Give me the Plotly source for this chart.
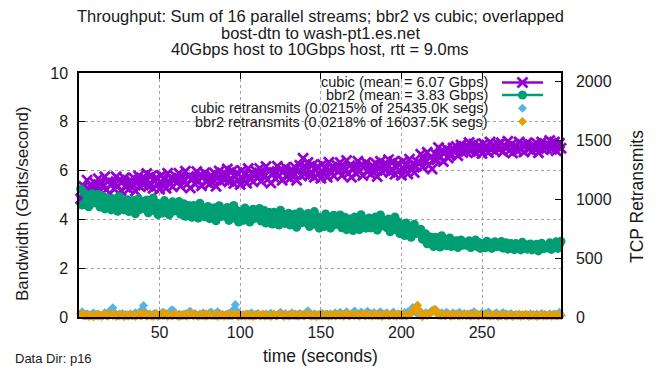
import plotly.graph_objects as go

# one sample per second, 299 intervals
time_s = list(range(1, 300))

cubic_gbps = [
    4.85, 5.05, 5.35, 5.00, 5.61, 5.25, 5.42, 5.06, 5.32, 5.48,
    5.30, 5.67, 5.14, 5.48, 5.38, 5.75, 5.22, 5.54, 5.07, 5.46,
    5.49, 5.24, 5.75, 5.37, 5.61, 5.17, 5.54, 5.70, 5.32, 5.44,
    5.25, 5.61, 5.46, 5.70, 5.16, 5.53, 5.78, 5.34, 5.57, 5.41,
    5.68, 5.88, 5.36, 5.49, 5.79, 5.28, 5.56, 5.72, 5.44, 5.24,
    5.80, 5.43, 5.63, 5.28, 5.89, 5.53, 5.70, 5.34, 5.60, 5.76,
    5.52, 5.89, 5.36, 5.70, 5.60, 5.97, 5.44, 5.76, 5.29, 5.68,
    5.70, 5.45, 5.96, 5.58, 5.82, 5.38, 5.75, 5.91, 5.53, 5.65,
    5.45, 5.81, 5.66, 5.90, 5.36, 5.73, 5.98, 5.54, 5.77, 5.61,
    5.87, 6.07, 5.55, 5.68, 5.98, 5.47, 5.75, 5.91, 5.63, 5.43,
    6.00, 5.63, 5.83, 5.48, 6.09, 5.73, 5.90, 5.54, 5.80, 5.96,
    5.72, 6.09, 5.56, 5.90, 5.80, 6.17, 5.64, 5.96, 5.49, 5.88,
    5.92, 5.67, 6.18, 5.80, 6.04, 5.60, 5.97, 6.13, 5.75, 5.87,
    5.69, 6.05, 5.90, 6.14, 5.60, 5.97, 6.22, 5.78, 6.51, 5.85,
    6.13, 6.33, 5.81, 5.94, 6.24, 5.73, 6.01, 6.17, 5.89, 5.69,
    6.25, 5.88, 6.08, 5.73, 6.34, 5.98, 6.15, 5.79, 6.05, 6.21,
    5.96, 6.33, 5.80, 6.14, 6.04, 6.41, 5.88, 6.20, 5.73, 6.12,
    6.12, 5.87, 6.38, 6.00, 6.24, 5.80, 6.17, 6.33, 5.95, 6.07,
    5.85, 6.21, 6.06, 6.30, 5.76, 6.13, 6.38, 5.94, 6.17, 6.01,
    6.25, 6.45, 5.93, 6.06, 6.36, 5.85, 6.13, 6.29, 6.01, 5.81,
    6.38, 6.01, 6.21, 5.86, 6.47, 6.11, 6.28, 5.92, 6.18, 6.34,
    6.30, 6.67, 6.14, 6.48, 6.38, 6.75, 6.22, 6.54, 6.07, 6.46,
    6.69, 6.44, 6.95, 6.57, 6.81, 6.37, 6.74, 6.90, 6.52, 6.64,
    6.67, 6.93, 6.82, 6.99, 6.61, 6.87, 7.05, 6.74, 6.90, 6.79,
    7.01, 7.15, 6.79, 6.88, 7.09, 6.73, 6.93, 7.04, 6.84, 6.70,
    7.10, 6.84, 6.99, 6.74, 7.17, 6.91, 7.03, 6.78, 6.96, 7.08,
    6.88, 7.14, 6.77, 7.01, 6.94, 7.20, 6.82, 7.05, 6.72, 6.99,
    6.99, 6.81, 7.17, 6.90, 7.07, 6.76, 7.02, 7.14, 6.87, 6.95,
    6.79, 7.05, 6.94, 7.11, 6.73, 6.99, 7.17, 6.86, 7.02, 6.91,
    7.09, 7.23, 6.87, 6.96, 7.17, 6.81, 7.01, 7.12, 6.92,
]

bbr2_gbps = [
    5.25, 4.59, 5.10, 4.72, 4.96, 4.52, 4.89, 5.05, 4.67, 4.79,
    4.83, 5.03, 4.51, 4.64, 4.94, 4.43, 4.71, 4.87, 4.59, 4.39,
    4.85, 4.48, 4.68, 4.33, 4.94, 4.58, 4.75, 4.39, 4.65, 4.81,
    4.32, 4.68, 4.53, 4.77, 4.23, 4.60, 4.85, 4.41, 4.64, 4.48,
    4.43, 4.80, 4.27, 4.61, 4.51, 4.88, 4.35, 4.67, 4.20, 4.59,
    4.51, 4.26, 4.77, 4.39, 4.63, 4.19, 4.56, 4.72, 4.34, 4.46,
    4.53, 4.73, 4.21, 4.34, 4.64, 4.13, 4.41, 4.57, 4.29, 4.09,
    4.57, 4.20, 4.40, 4.05, 4.66, 4.30, 4.47, 4.11, 4.37, 4.53,
    4.03, 4.39, 4.24, 4.48, 3.94, 4.31, 4.56, 4.12, 4.35, 4.19,
    4.12, 4.49, 3.96, 4.30, 4.20, 4.57, 4.04, 4.36, 3.89, 4.28,
    4.21, 3.96, 4.47, 4.09, 4.33, 3.89, 4.26, 4.42, 4.04, 4.16,
    4.25, 4.45, 3.93, 4.06, 4.36, 3.85, 4.13, 4.29, 4.01, 3.81,
    4.29, 3.92, 4.12, 3.77, 4.38, 4.02, 4.19, 3.83, 4.09, 4.25,
    3.77, 4.13, 3.98, 4.22, 3.68, 4.05, 4.30, 3.86, 4.09, 3.93,
    3.87, 4.24, 3.71, 4.05, 3.95, 4.32, 3.79, 4.11, 3.64, 4.03,
    3.96, 3.71, 4.22, 3.84, 4.08, 3.64, 4.01, 4.17, 3.79, 3.91,
    3.98, 4.18, 3.66, 3.79, 4.09, 3.58, 3.86, 4.02, 3.74, 3.54,
    4.10, 3.73, 3.93, 3.58, 4.19, 3.83, 4.00, 3.64, 3.90, 4.06,
    3.65, 4.01, 3.86, 4.10, 3.56, 3.93, 4.18, 3.74, 3.97, 3.81,
    3.65, 4.02, 3.49, 3.83, 3.73, 4.10, 3.57, 3.89, 3.42, 3.81,
    3.59, 3.34, 3.85, 3.47, 3.71, 3.27, 3.64, 3.80, 3.42, 3.54,
    3.44, 3.60, 3.19, 3.17, 3.41, 3.00, 3.23, 3.28, 3.05, 2.89,
    3.27, 2.99, 3.14, 2.87, 3.33, 3.06, 3.19, 2.92, 3.12, 3.24,
    2.89, 3.08, 3.00, 3.12, 2.85, 3.04, 3.16, 2.94, 3.06, 2.97,
    2.93, 3.12, 2.85, 3.02, 2.97, 3.16, 2.89, 3.05, 2.81, 3.01,
    2.97, 2.84, 3.10, 2.91, 3.03, 2.81, 3.00, 3.08, 2.88, 2.94,
    2.99, 3.09, 2.82, 2.89, 3.04, 2.78, 2.93, 3.01, 2.86, 2.76,
    3.01, 2.82, 2.93, 2.75, 3.06, 2.87, 2.96, 2.78, 2.91, 2.99,
    2.75, 2.94, 2.86, 2.98, 2.71, 2.90, 3.02, 2.80, 2.92, 2.83,
    2.85, 3.04, 2.77, 2.94, 2.89, 3.08, 2.81, 2.97, 3.10,
]

cubic_retrans = [
    30, 45, 22, 12, 28, 18, 8, 20, 35, 15,
    10, 26, 14, 6, 22, 36, 12, 25, 50, 62,
    78, 40, 18, 10, 24, 15, 30, 12, 20, 8,
    16, 28, 10, 22, 35, 14, 26, 48, 60, 98,
    45, 18, 12, 25, 9, 20, 32, 14, 6, 18,
    28, 40, 15, 22, 10, 30, 55, 62, 35, 18,
    12, 24, 8, 20, 15, 28, 10, 40, 48, 22,
    14, 30, 18, 10, 25, 12, 36, 20, 8, 16,
    35, 42, 20, 12, 28, 45, 30, 15, 22, 10,
    18, 26, 12, 30, 48, 65, 105, 50, 22, 14,
    8, 20, 15, 28, 10, 22, 35, 16, 12, 25,
    30, 18, 8, 22, 14, 26, 12, 20, 32, 15,
    24, 10, 18, 28, 40, 22, 12, 30, 16, 8,
    20, 35, 14, 26, 10, 22, 30, 18, 12, 25,
    40, 52, 35, 20, 12, 28, 16, 8, 22, 14,
    30, 18, 10, 24, 15, 28, 12, 20, 35, 16,
    22, 40, 28, 14, 30, 45, 20, 12, 26, 38,
    50, 32, 18, 28, 42, 24, 15, 35, 48, 22,
    30, 20, 38, 26, 14, 32, 45, 22, 18, 28,
    36, 20, 12, 30, 42, 25, 16, 28, 20, 14,
    26, 38, 22, 45, 30, 50, 80, 65, 40, 30,
    15, 40, 25, 18, 35, 28, 24, 40, 55, 60,
    65, 42, 22, 14, 36, 25, 18, 40, 28, 15,
    22, 35, 18, 28, 12, 40, 24, 16, 30, 20,
    26, 14, 32, 22, 45, 18, 28, 12, 24, 35,
    20, 30, 15, 42, 25, 18, 12, 28, 36, 20,
    14, 24, 38, 18, 28, 12, 22, 30, 16, 10,
    20, 14, 26, 8, 18, 12, 22, 16, 10, 28,
    15, 20, 12, 25, 8, 18, 30, 14, 22, 10,
    16, 28, 12, 20, 24, 10, 18, 40, 15,
]

bbr2_retrans = [
    28, 15, 8, 20, 12, 5, 18, 10, 3, 14,
    22, 8, 16, 4, 12, 25, 10, 6, 18, 30,
    12, 20, 5, 15, 8, 22, 10, 3, 14, 18,
    6, 20, 10, 14, 4, 16, 25, 8, 12, 35,
    18, 6, 14, 22, 10, 4, 16, 30, 12, 8,
    20, 10, 35, 15, 5, 22, 12, 8, 18, 28,
    10, 4, 16, 8, 20, 12, 6, 24, 14, 30,
    8, 18, 12, 4, 22, 10, 15, 6, 28, 12,
    20, 8, 14, 25, 10, 4, 18, 12, 22, 6,
    15, 10, 28, 14, 8, 20, 30, 12, 5, 16,
    10, 18, 6, 14, 22, 8, 12, 4, 16, 10,
    20, 8, 14, 25, 6, 12, 18, 10, 4, 15,
    22, 12, 8, 18, 28, 10, 5, 16, 12, 20,
    8, 14, 25, 10, 18, 6, 12, 22, 15, 8,
    20, 30, 12, 6, 16, 10, 4, 18, 12, 24,
    8, 14, 20, 10, 6, 16, 12, 25, 8, 14,
    18, 10, 22, 6, 14, 28, 12, 8, 20, 15,
    10, 24, 14, 6, 18, 30, 12, 8, 22, 10,
    16, 6, 20, 12, 26, 10, 14, 4, 18, 12,
    22, 8, 14, 28, 10, 16, 6, 20, 12, 25,
    10, 18, 8, 14, 22, 30, 45, 70, 85, 100,
    60, 20, 2, 15, 25, 12, 22, 30, 45, 58,
    62, 40, 14, 25, 10, 20, 8, 15, 28, 12,
    6, 16, 10, 22, 14, 8, 18, 12, 25, 10,
    14, 20, 6, 16, 10, 28, 12, 8, 18, 14,
    10, 22, 8, 15, 6, 18, 12, 20, 10, 4,
    16, 8, 22, 12, 6, 14, 18, 10, 4, 12,
    20, 8, 14, 6, 16, 10, 22, 12, 5, 14,
    8, 18, 12, 4, 15, 10, 20, 6, 14, 8,
    12, 18, 6, 14, 10, 22, 8, 16, 12,
]

legend_labels = [
    "cubic (mean = 6.07 Gbps)",
    "bbr2 (mean = 3.83 Gbps)",
    "cubic retransmits (0.0215% of 25435.0K segs)",
    "bbr2 retransmits (0.0218% of 16037.5K segs)",
]
title_lines = [
    "Throughput: Sum of 16 parallel streams; bbr2 vs cubic; overlapped",
    "bost-dtn to wash-pt1.es.net",
    "40Gbps host to 10Gbps host, rtt = 9.0ms",
]

PURPLE = "#9400d3"
GREEN = "#009e73"
BLUE = "#56b4e9"
ORANGE = "#e69f00"
FONT = "Liberation Sans, Arial, sans-serif"
TXT = "#1a1a1a"

W, H = 656, 371
L, R, T, B = 79, 561, 73, 317


def px(x):
    return (x - L) / (R - L)


def py(y):
    return (B - y) / (B - T)


CUBIC_MARK = dict(symbol="x-thin", size=10, line=dict(color=PURPLE, width=2.8))
BBR2_MARK = dict(symbol="circle", size=9, color=GREEN)
CRET_MARK = dict(symbol="diamond", size=7, color=BLUE)
BRET_MARK = dict(symbol="diamond", size=7, color=ORANGE)

fig = go.Figure()

fig.add_trace(go.Scatter(x=time_s, y=cubic_gbps, mode="markers", marker=CUBIC_MARK,
                         cliponaxis=False, showlegend=False))
fig.add_trace(go.Scatter(x=time_s, y=bbr2_gbps, mode="markers", marker=BBR2_MARK,
                         cliponaxis=False, showlegend=False))
fig.add_trace(go.Scatter(x=time_s, y=cubic_retrans, mode="markers", yaxis="y2",
                         marker=CRET_MARK, cliponaxis=False, showlegend=False))
fig.add_trace(go.Scatter(x=time_s, y=bbr2_retrans, mode="markers", yaxis="y2",
                         marker=BRET_MARK, cliponaxis=False, showlegend=False))

# key: right-aligned text with samples to the right, drawn on a unit overlay axis
key_rows = [82.5, 95, 108.3, 121.5]
key_text_right = 490
key_line = (502, 543)
key_mark = 522.5
key_styles = [
    (True, CUBIC_MARK, PURPLE),
    (True, BBR2_MARK, GREEN),
    (False, CRET_MARK, BLUE),
    (False, BRET_MARK, ORANGE),
]
for row_y, label, (has_line, mk, col) in zip(key_rows, legend_labels, key_styles):
    if has_line:
        fig.add_trace(go.Scatter(
            x=[px(key_line[0]), px(key_line[1])], y=[py(row_y), py(row_y)],
            mode="lines", line=dict(color=col, width=2.5),
            xaxis="x3", yaxis="y3", showlegend=False, hoverinfo="skip",
        ))
    fig.add_trace(go.Scatter(
        x=[px(key_mark)], y=[py(row_y)], mode="markers", marker=mk,
        xaxis="x3", yaxis="y3", showlegend=False, hoverinfo="skip", cliponaxis=False,
    ))
    fig.add_annotation(
        x=px(key_text_right), y=py(row_y), xref="paper", yref="paper",
        text=label, showarrow=False, xanchor="right", yanchor="middle",
        font=dict(family=FONT, size=14.5, color=TXT),
    )

for i, line in enumerate(title_lines):
    fig.add_annotation(
        x=0.5, y=py(16 + 16.5 * i), xref="paper", yref="paper",
        text=line, showarrow=False, xanchor="center", yanchor="middle",
        font=dict(family=FONT, size=16.5, color=TXT),
    )

fig.add_annotation(x=px(22), y=py(204), xref="paper", yref="paper",
                   text="Bandwidth (Gbits/second)", textangle=-90, showarrow=False,
                   xanchor="center", yanchor="middle",
                   font=dict(family=FONT, size=17, color=TXT))
fig.add_annotation(x=px(637), y=py(197), xref="paper", yref="paper",
                   text="TCP Retransmits", textangle=-90, showarrow=False,
                   xanchor="center", yanchor="middle",
                   font=dict(family=FONT, size=17.5, color=TXT))
fig.add_annotation(x=0.5, y=py(356), xref="paper", yref="paper",
                   text="time (seconds)", showarrow=False,
                   xanchor="center", yanchor="middle",
                   font=dict(family=FONT, size=17.5, color=TXT))
fig.add_annotation(x=px(13), y=py(358), xref="paper", yref="paper",
                   text="Data Dir: p16", showarrow=False, xanchor="left", yanchor="middle",
                   font=dict(family=FONT, size=13, color=TXT))

grid = dict(showgrid=True, gridcolor="#a0a0a0", griddash="dot", gridwidth=1)
fig.update_layout(
    width=W, height=H,
    margin=dict(l=L, r=W - R, t=T, b=H - B),
    paper_bgcolor="white", plot_bgcolor="white",
    font=dict(family=FONT, size=16, color=TXT),
    xaxis=dict(range=[0, 299], tickvals=[50, 100, 150, 200, 250],
               ticks="inside", ticklen=6, tickcolor="black",
               showline=True, linecolor="black", linewidth=1.5, mirror="ticks",
               zeroline=False, **grid),
    yaxis=dict(range=[0, 10], tickvals=[0, 2, 4, 6, 8, 10],
               ticks="inside", ticklen=6, tickcolor="black",
               showline=True, linecolor="black", linewidth=1.5,
               zeroline=False, ticklabelstandoff=6, **grid),
    yaxis2=dict(range=[0, 2072], tickvals=[0, 500, 1000, 1500, 2000],
                overlaying="y", side="right", ticks="inside", ticklen=6,
                tickcolor="black", showline=True, linecolor="black", linewidth=1.5,
                showgrid=False, zeroline=False, ticklabelstandoff=10),
    xaxis3=dict(range=[0, 1], overlaying="x", visible=False, fixedrange=True),
    yaxis3=dict(range=[0, 1], overlaying="y", visible=False, fixedrange=True),
    showlegend=False,
)

fig.write_html("out.html")
